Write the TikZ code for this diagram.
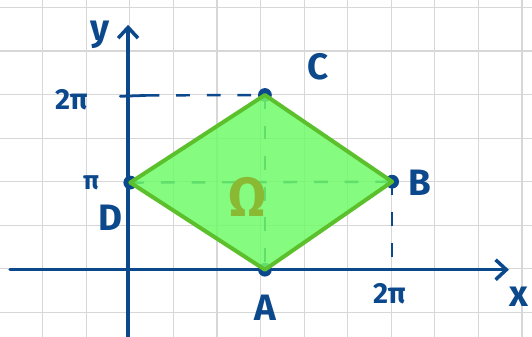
\documentclass[tikz,border=0pt]{standalone}
\usepackage{fontspec}
\setmainfont{Fira Sans}
\usepackage{tikz}
\usetikzlibrary{calc,arrows.meta,positioning}
\definecolor{cAxis}{RGB}{12,72,140}
\definecolor{cGrid}{RGB}{215,215,215}
\definecolor{cFill}{RGB}{112,250,104}
\definecolor{cEdge}{RGB}{92,192,44}
\definecolor{cOmega}{RGB}{138,185,52}

\begin{document}
\begin{tikzpicture}[
    axis/.style={cAxis,line width=2.3pt,line cap=round,-{Straight Barb[length=7pt,width=13pt,line width=2.3pt]}},
    guide/.style={cAxis,line width=1.6pt,dash pattern=on 9pt off 11pt},
    lbl/.style={cAxis,font=\fontsize{24}{26}\selectfont\bfseries},
    vert/.style={cAxis,fill,circle,inner sep=0pt,minimum size=9pt}]
  \useasboundingbox (-2.94,-1.54) rectangle (9.27,6.19);
  % squared paper
  \draw[cGrid,line width=0.8pt,shift={(0.04,0.02)}] (-3,-2) grid (10,7);
  % axes
  \draw[axis] (0,-1.6) -- (0,5.62);
  \draw[axis] (-2.71,0) -- (8.74,0);
  \node[lbl] (ylab) at (-0.64,5.39) {y};
  \node[lbl] (xlab) at (8.98,-0.62) {x};
  % corners of the region
  \coordinate (A) at (3.14,0);
  \coordinate (B) at (6.06,2.02);
  \coordinate (C) at (3.14,4.01);
  \coordinate (D) at (0.05,2.0);
  \coordinate (Cy) at (0.4,4.0);
  \coordinate (Bx) at (B |- A);
  % tick and guide lines
  \draw[cAxis,line width=1.8pt,line cap=round] (-0.18,3.98) -- (Cy);
  \draw[guide] (Cy) -- (C);
  \draw[guide] (C) -- (A);
  \draw[guide] (D) -- (B);
  \draw[guide] (B) -- (Bx);
  \foreach \p in {A,B,C,D}
    \node[vert] at (\p) {};
  % the region
  \fill[cFill,opacity=0.85] (A) -- (B) -- (C) -- (D) -- cycle;
  \draw[cEdge,line width=2.6pt,line join=round] (A) -- (B) -- (C) -- (D) -- cycle;
  \node[cOmega,font=\fontsize{36}{38}\selectfont\bfseries] (omega) at (2.75,1.68) {Ω};
  % labels
  \node[lbl] (lA) at (3.14,-0.87) {A};
  \node[lbl] (lB) at (6.7,2.0) {B};
  \node[lbl] (lC) at (4.36,4.66) {C};
  \node[lbl] (lD) at (-0.41,1.19) {D};
  \node[lbl,font=\fontsize{19}{21}\selectfont\bfseries] (ytwopi) at (-1.3,3.9) {2π};
  \node[lbl,font=\fontsize{17}{19}\selectfont\bfseries] (ypi) at (-0.85,2.0) {π};
  \node[lbl,font=\fontsize{19}{21}\selectfont\bfseries] (xtwopi) at (6.0,-0.55) {2π};
\end{tikzpicture}
\end{document}
